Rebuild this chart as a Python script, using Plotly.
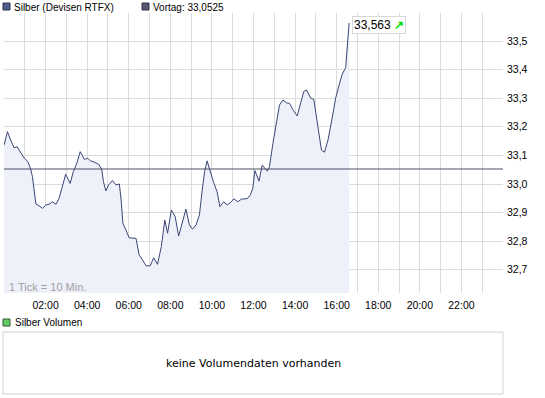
import plotly.graph_objects as go

# ---- data ----
times = ["00:00", "00:10", "00:19", "00:29", "00:38", "00:46", "00:58", "01:09", "01:17", "01:22",
         "01:27", "01:32", "01:41", "01:51", "02:01", "02:10", "02:20", "02:30", "02:39", "02:49",
         "02:58", "03:11", "03:20", "03:30", "03:40", "03:52", "04:02", "04:09", "04:18", "04:33",
         "04:42", "04:47", "04:54", "05:02", "05:13", "05:23", "05:33", "05:38", "05:43", "05:52",
         "06:01", "06:21", "06:30", "06:40", "06:50", "07:02", "07:12", "07:23", "07:34", "07:44",
         "07:52", "08:03", "08:14", "08:24", "08:34", "08:45", "08:55", "09:04", "09:14", "09:24",
         "09:32", "09:39", "09:46", "09:56", "10:05", "10:15", "10:23", "10:34", "10:44", "10:54",
         "11:03", "11:15", "11:25", "11:42", "11:51", "11:58", "12:04", "12:16", "12:25", "12:40",
         "12:46", "12:56", "13:06", "13:15", "13:25", "13:35", "13:44", "13:54", "14:06", "14:16",
         "14:25", "14:33", "14:45", "14:54", "15:04", "15:16", "15:25", "15:35", "15:46", "15:57",
         "16:07", "16:16", "16:26", "16:31", "16:36"]
prices = [33.136, 33.183, 33.154, 33.127, 33.130, 33.113, 33.091, 33.078, 33.052, 33.026,
          32.979, 32.930, 32.924, 32.915, 32.927, 32.929, 32.938, 32.929, 32.950, 32.991,
          33.034, 33.002, 33.043, 33.072, 33.113, 33.086, 33.090, 33.081, 33.078, 33.069,
          33.051, 33.008, 32.976, 32.997, 33.012, 32.997, 33.000, 32.944, 32.863, 32.839,
          32.812, 32.810, 32.752, 32.734, 32.714, 32.714, 32.742, 32.719, 32.781, 32.874,
          32.828, 32.909, 32.886, 32.818, 32.863, 32.912, 32.857, 32.842, 32.857, 32.892,
          32.979, 33.043, 33.081, 33.037, 33.005, 32.973, 32.921, 32.938, 32.927, 32.935,
          32.948, 32.938, 32.947, 32.949, 32.962, 32.985, 33.047, 33.010, 33.066, 33.045,
          33.060, 33.142, 33.212, 33.276, 33.294, 33.284, 33.282, 33.259, 33.238, 33.280,
          33.323, 33.329, 33.300, 33.296, 33.212, 33.119, 33.111, 33.154, 33.224, 33.300,
          33.346, 33.384, 33.407, 33.486, 33.563]
vortag = 33.0525
last_label = "33,563"

y_ticks = [32.7, 32.8, 32.9, 33.0, 33.1, 33.2, 33.3, 33.4, 33.5]
y_tick_text = ["32,7", "32,8", "32,9", "33,0", "33,1", "33,2", "33,3", "33,4", "33,5"]
hour_ticks = ["%02d:00" % h for h in range(1, 24)]
hour_text = [t if int(t[:2]) % 2 == 0 else "" for t in hour_ticks]

DAY = "2000-01-01 "
W, H = 545, 398
LINE = "#3b4775"
FILL = "#eef0fa"
GRID = "#dcdcdc"
FONT = "Liberation Sans, Arial, sans-serif"
WIDE = "DejaVu Sans, Verdana, sans-serif"


def px(x):
    return x / W


def py(y):
    return 1 - y / H


fig = go.Figure()
fig.add_trace(go.Scatter(
    x=[DAY + t for t in times], y=prices, mode="lines",
    line=dict(color=LINE, width=1), fill="tozeroy", fillcolor=FILL,
    hoverinfo="skip", showlegend=False))

# previous close line
fig.add_hline(y=vortag, line=dict(color="#4a4e66", width=1), layer="above")

shapes = [
    dict(type="rect", xref="x domain", yref="y domain", x0=0, x1=1, y0=0, y1=1,
         line=dict(color="#d0d0d0", width=1), layer="above"),
    dict(type="rect", xref="paper", yref="paper", x0=px(3), x1=px(10), y0=py(10), y1=py(3),
         fillcolor="#4d5f8c", line=dict(color="#2f3550", width=1)),
    dict(type="rect", xref="paper", yref="paper", x0=px(142), x1=px(149), y0=py(10), y1=py(3),
         fillcolor="#55596f", line=dict(color="#30334a", width=1)),
    dict(type="rect", xref="paper", yref="paper", x0=px(3), x1=px(10), y0=py(326), y1=py(319),
         fillcolor="#66cc66", line=dict(color="#2e5a2e", width=1)),
    dict(type="rect", xref="paper", yref="paper", x0=px(3), x1=px(503), y0=py(394), y1=py(332),
         line=dict(color="#d0d0d0", width=1)),
]

annotations = [
    dict(xref="paper", yref="paper", x=px(12), y=py(7), xanchor="left", yanchor="middle",
         text="Silber (Devisen RTFX)", showarrow=False, font=dict(size=10, color="#000")),
    dict(xref="paper", yref="paper", x=px(151), y=py(7), xanchor="left", yanchor="middle",
         text="Vortag: 33,0525", showarrow=False, font=dict(size=10, color="#000")),
    dict(xref="paper", yref="paper", x=px(13), y=py(322), xanchor="left", yanchor="middle",
         text="Silber Volumen", showarrow=False, font=dict(size=10, color="#000")),
    dict(xref="paper", yref="paper", x=px(7), y=py(287), xanchor="left", yanchor="middle",
         text="1 Tick = 10 Min.", showarrow=False, font=dict(size=11, color="#a0a0a0")),
    dict(xref="paper", yref="paper", x=px(253), y=py(363), xanchor="center", yanchor="middle",
         text="keine Volumendaten vorhanden", showarrow=False,
         font=dict(family=WIDE, size=11, color="#000")),
    dict(xref="paper", yref="paper", x=px(352), y=py(25.5), xanchor="left", yanchor="middle",
         text=last_label + " <span style='color:#00dd00'><b>↗</b></span>", showarrow=False,
         font=dict(size=12, color="#000"), bgcolor="#ffffff", bordercolor="#d8d8d8",
         borderwidth=1, borderpad=1),
]

fig.update_layout(
    width=W, height=H, margin=dict(l=0, r=0, t=0, b=0, pad=0),
    paper_bgcolor="#ffffff", plot_bgcolor="#ffffff",
    font=dict(family=FONT, size=11, color="#000"),
    shapes=shapes, annotations=annotations, showlegend=False,
    xaxis=dict(type="date", domain=[px(4), px(503)],
               range=[DAY + "00:00", "2000-01-02 00:00"],
               tickmode="array", tickvals=[DAY + t for t in hour_ticks], ticktext=hour_text,
               showgrid=True, gridcolor=GRID, gridwidth=1, zeroline=False, showline=False,
               ticks="", tickfont=dict(size=10.5, color="#000"), automargin=False,
               ticklabelstandoff=4, fixedrange=True),
    yaxis=dict(domain=[py(293), py(13)], range=[32.6189, 33.5979], side="right",
               tickmode="array", tickvals=y_ticks, ticktext=y_tick_text,
               showgrid=True, gridcolor=GRID, gridwidth=1, zeroline=False, showline=False,
               ticks="", tickfont=dict(size=10.5, color="#000"), automargin=False,
               ticklabelstandoff=3, fixedrange=True),
)

fig.write_html("out.html", config={"displayModeBar": False},
               post_script="document.body.style.margin='0';document.body.style.overflow='hidden';")
